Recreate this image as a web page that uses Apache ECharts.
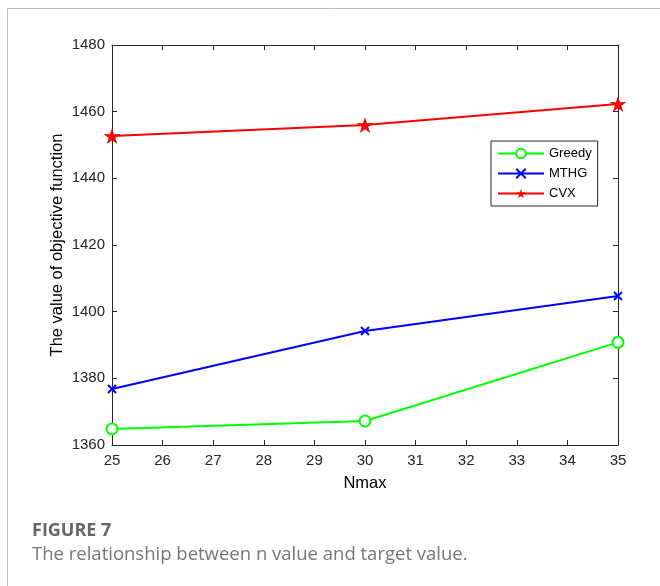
<!DOCTYPE html>
<html>
<head>
<meta charset="utf-8">
<script src="https://cdn.jsdelivr.net/npm/echarts@6/dist/echarts.min.js"></script>
<style>
html, body { margin: 0; padding: 0; background: #fff; }
#chart { width: 660px; height: 586px; }
</style>
</head>
<body>
<div id="chart"></div>
<script>
// values
const nmax = [25, 30, 35]
const greedy = [1364.8, 1367.2, 1390.8]
const mthg = [1376.8, 1394.2, 1404.7]
const cvx = [1452.7, 1456.0, 1462.3]

const STAR = 'path://M50,0L61.17,34.63L97.55,34.55L68.07,55.87L79.39,90.45L50,69L20.61,90.45L31.93,55.87L2.45,34.55L38.83,34.63Z'
const CROSS = 'path://M0,0L10,10M10,0L0,10'
const AXIS_COLOR = '#262626'
const FONT = '"Liberation Sans", Arial, sans-serif'

function pairs(ys){
  return nmax.map((x, i) => [x, ys[i]])
}

let chart = echarts.init(document.getElementById('chart'))

let axisBase = {
  axisLine: { show: true, lineStyle: { color: AXIS_COLOR, width: 1 } },
  axisTick: { show: true, inside: true, length: 5, lineStyle: { color: AXIS_COLOR } },
  splitLine: { show: false }
}

let chartOpt = {
  animation: false,
  textStyle: { fontFamily: FONT },
  grid: { left: 112, top: 45, right: 42, bottom: 141 },
  legend: {
    orient: 'vertical',
    left: 491,
    top: 141,
    padding: [6, 6, 6, 6],
    itemWidth: 46,
    itemHeight: 12,
    itemGap: 7,
    backgroundColor: '#fff',
    borderColor: AXIS_COLOR,
    borderWidth: 1,
    textStyle: { fontSize: 13, color: '#000', fontFamily: FONT },
    data: ['Greedy', 'MTHG', 'CVX']
  },
  xAxis: [
    Object.assign({
      type: 'value', min: 25, max: 35, interval: 1,
      name: 'Nmax', nameLocation: 'middle', nameGap: 30,
      nameTextStyle: { fontSize: 16.5, color: '#000', fontFamily: FONT },
      axisLabel: { fontSize: 15, color: AXIS_COLOR, margin: 8, fontFamily: FONT }
    }, axisBase),
    Object.assign({
      type: 'value', min: 25, max: 35, interval: 1, position: 'top',
      axisLabel: { show: false }
    }, axisBase)
  ],
  yAxis: [
    Object.assign({
      type: 'value', min: 1360, max: 1480, interval: 20,
      name: 'The value of objective function', nameLocation: 'middle', nameGap: 46,
      nameMoveOverlap: false,
      nameRotate: 90,
      nameTextStyle: { fontSize: 16.5, color: '#000', fontFamily: FONT },
      axisLabel: { fontSize: 15, color: AXIS_COLOR, margin: 7, fontFamily: FONT, formatter: v => String(v) }
    }, axisBase),
    Object.assign({
      type: 'value', min: 1360, max: 1480, interval: 20, position: 'right',
      axisLabel: { show: false }
    }, axisBase)
  ],
  series: [
    {
      name: 'Greedy', type: 'line', data: pairs(greedy),
      symbol: 'emptyCircle', symbolSize: 11,
      lineStyle: { color: '#00ff00', width: 2 },
      itemStyle: { color: '#00ff00', borderColor: '#00ff00', borderWidth: 2 }
    },
    {
      name: 'MTHG', type: 'line', data: pairs(mthg),
      symbol: CROSS, symbolSize: 8,
      lineStyle: { color: '#0000ff', width: 2 },
      itemStyle: { color: '#0000ff', borderColor: '#0000ff', borderWidth: 2 }
    },
    {
      name: 'CVX', type: 'line', data: pairs(cvx),
      symbol: STAR, symbolSize: [17, 16],
      lineStyle: { color: '#ff0000', width: 2 },
      itemStyle: { color: '#ff0000', borderWidth: 0 }
    }
  ],
  graphic: [
    {
      type: 'polyline',
      shape: { points: [[7.5, 586], [7.5, 8.5], [660, 8.5]] },
      style: { fill: null, stroke: '#bdbdbd', lineWidth: 1 },
      silent: true
    },
    {
      type: 'text', left: 32, top: 522,
      style: { text: 'FIGURE 7', fontSize: 18, fontWeight: 'bold', fill: '#666', fontFamily: '"Open Sans", sans-serif' }
    },
    {
      type: 'text', left: 32, top: 545,
      style: { text: 'The relationship between n value and target value.', fontSize: 18.5, fill: '#777', fontFamily: '"Open Sans", sans-serif' }
    }
  ]
}

chart.setOption(chartOpt)
</script>
</body>
</html>
